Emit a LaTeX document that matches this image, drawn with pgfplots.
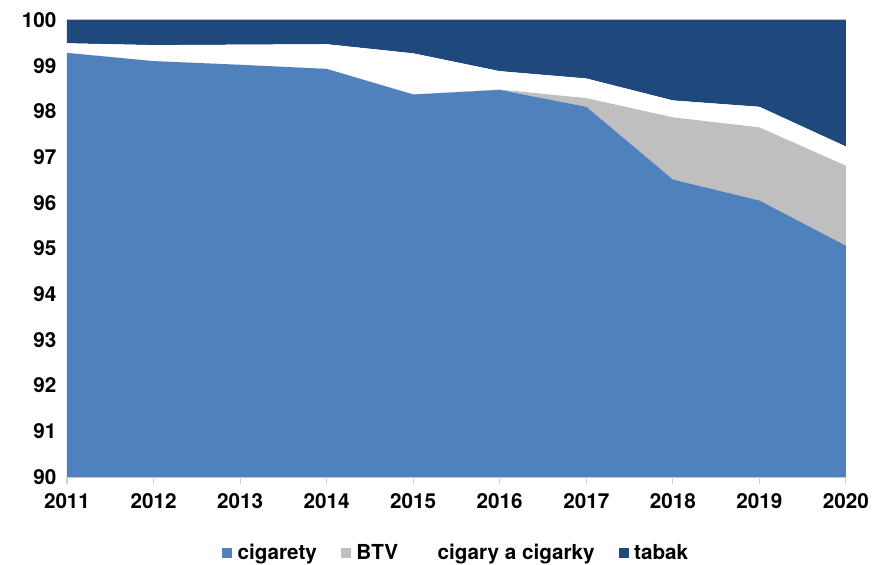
\documentclass[border=0pt]{standalone}
\usepackage{fontspec}
\setmainfont{TeX Gyre Heros}
\usepackage{pgfplots}
\pgfplotsset{compat=1.18}
\definecolor{cblue}{HTML}{4F81BD}
\definecolor{cgray}{HTML}{BFBFBF}
\definecolor{cnavy}{HTML}{1F497D}
\definecolor{cline}{HTML}{D0D0D0}
\begin{document}
\begin{tikzpicture}[x=0.75pt,y=0.75pt]
\useasboundingbox (0,0) rectangle (877,564);
\begin{axis}[
  at={(67*0.75pt,87*0.75pt)}, anchor=south west,
  scale only axis, width=779*0.75pt, height=457*0.75pt,
  xmin=2011, xmax=2020, ymin=90, ymax=100,
  stack plots=y,
  axis x line*=bottom, axis y line*=left,
  x axis line style={cline, line width=0.8pt},
  y axis line style={draw=none},
  xtick={2011,...,2020},
  xticklabels={2011,2012,2013,2014,2015,2016,2017,2018,2019,2020},
  ytick={90,91,...,100},
  yticklabels={90,91,92,93,94,95,96,97,98,99,100},
  xtick style={cline, line width=0.8pt},
  tick align=outside, major tick length=5.5pt,
  ytick style={draw=none},
  ticklabel style={font=\fontsize{15.5}{18}\selectfont\bfseries},
  yticklabel style={xshift=1pt},
  xticklabel style={yshift=-3pt},
  legend columns=4,
  legend style={draw=none, at={(0.5,-0.166)}, anchor=center,
    font=\fontsize{15.5}{18}\selectfont\bfseries,
    /tikz/every odd column/.append style={column sep=2pt},
    /tikz/every even column/.append style={column sep=16pt}},
  legend image code/.code={\fill[#1] (0pt,-3.8pt) rectangle (7.6pt,3.8pt);},
  clip=true,
]
\addplot[fill=cblue, draw=none] coordinates {
(2011,99.28) (2012,99.10) (2013,99.02) (2014,98.93) (2015,98.37)
(2016,98.47) (2017,98.10) (2018,96.51) (2019,96.05) (2020,95.06)} \closedcycle;
\addlegendentry{cigarety}
\addplot[fill=cgray, draw=none] coordinates {
(2011,0) (2012,0) (2013,0) (2014,0) (2015,0)
(2016,0.01) (2017,0.19) (2018,1.36) (2019,1.60) (2020,1.75)} \closedcycle;
\addlegendentry{BTV}
\addplot[fill=white, draw=none] coordinates {
(2011,0.21) (2012,0.35) (2013,0.44) (2014,0.54) (2015,0.90)
(2016,0.40) (2017,0.43) (2018,0.37) (2019,0.45) (2020,0.42)} \closedcycle;
\addlegendentry{cigary a cigarky}
\addplot[fill=cnavy, draw=none] coordinates {
(2011,0.51) (2012,0.55) (2013,0.54) (2014,0.53) (2015,0.73)
(2016,1.12) (2017,1.28) (2018,1.76) (2019,1.90) (2020,2.77)} \closedcycle;
\addlegendentry{tabak}
\draw[cline, line width=0.8pt] (rel axis cs:0,1) -- (rel axis cs:1,1);
\end{axis}
\end{tikzpicture}
\end{document}
